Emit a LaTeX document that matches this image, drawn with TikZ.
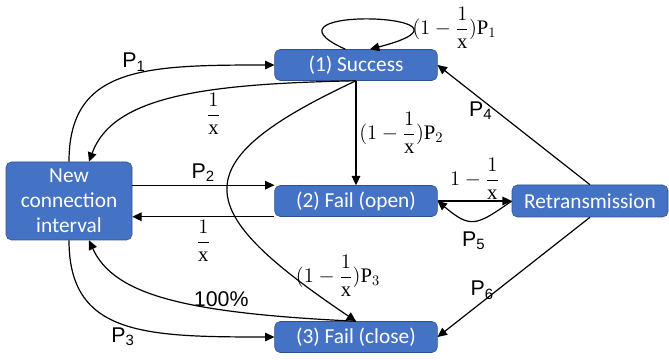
\RequirePackage{fix-cm}
\documentclass[tikz,border=0pt]{standalone}
\usepackage{amsmath}
\usepackage{fontspec}
\setmainfont{Liberation Serif}
\usetikzlibrary{arrows.meta}
\newfontfamily\boxfont{Carlito}
\newfontfamily\labfont{Liberation Sans}
\definecolor{boxblue}{HTML}{4472C4}
\definecolor{boxline}{HTML}{2F528F}
\tikzset{
  state/.style={rectangle, rounded corners=4pt, fill=boxblue, draw=boxline, line width=0.4pt,
    text=white, font=\boxfont\fontsize{16}{18.75}\selectfont, inner sep=2pt},
  edge/.style={-{Triangle[length=7pt,width=6.5pt]}, line width=0.9pt},
  plab/.style={font=\labfont\fontsize{16}{18}\selectfont, inner sep=2pt},
  flab/.style={font=\fontsize{15.5}{17}\selectfont, inner sep=2pt}
}
\begin{document}
\begin{tikzpicture}[x=0.75pt, y=0.75pt]
    \useasboundingbox (0,0) rectangle (669,-360);

    % States
    \node[state, minimum width=122pt, minimum height=23.25pt] (s) at (356,-65) {(1) Success};
    \node[state, minimum width=122pt, minimum height=23.25pt] (fo) at (356,-201) {(2) Fail (open)};
    \node[state, minimum width=122pt, minimum height=23.25pt] (fc) at (356,-337) {(3) Fail (close)};
    \node[state, minimum width=94.5pt, minimum height=58.5pt, align=center] (new) at (69,-201) {New\\connection\\interval};
    \node[state, minimum width=117pt, minimum height=24pt] (rt) at (590,-201) {Retransmission};

    % Success loop
    \draw[edge] ([xshift=-8pt]s.north) .. controls +(-100,45) and +(135,35) .. ([xshift=10.5pt]s.north)
        node[pos=0.75, right, flab] {$(1-\dfrac{1}{\mathrm{x}})\mathrm{P}_1$};

    % New connection interval <-> Success
    \draw[edge] (new.north) .. controls +(0,95) and +(-130,0) .. (s.west)
        node[pos=0.55, above, plab] {P\textsubscript{1}};
    \draw[edge] (s.south) .. controls +(-150,-3) and +(24,66) .. ([xshift=15pt]new.north)
        node[pos=0.37, below, flab] {$\dfrac{1}{\mathrm{x}}$};

    % Success -> Fail
    \draw[edge] (s.south) -- (fo.north) node[midway, right, flab] {$(1-\dfrac{1}{\mathrm{x}})\mathrm{P}_2$};
    \draw[edge] (s.south) to[out=205, in=146, looseness=2.1]
        node[pos=0.85, right, flab] {$(1-\dfrac{1}{\mathrm{x}})\mathrm{P}_3$} (fc.north);

    % New connection interval <-> Fail (open)
    \draw[edge] (new.east |- fo.north west) -- (fo.north west) node[midway, above, plab] {P\textsubscript{2}};
    \draw[edge] (fo.south west) -- (new.east |- fo.south west) node[midway, below, flab] {$\dfrac{1}{\mathrm{x}}$};

    % New connection interval <-> Fail (close)
    \draw[edge] (new.south) .. controls +(0,-95) and +(-130,0) .. (fc.west)
        node[pos=0.5, below, plab] {P\textsubscript{3}};
    \draw[edge] (fc.north) .. controls +(-170,8) and +(25,-55) .. ([xshift=15pt]new.south)
        node[pos=0.32, above, plab] {100\%};

    % Retransmission
    \draw[edge] (fo.east) -- (rt.west) node[midway, above, flab, inner sep=0.5pt] {$1-\dfrac{1}{\mathrm{x}}$};
    \draw[edge] (rt.west) to[out=215, in=-40, looseness=1.5]
        node[pos=0.5, below=6pt, plab] {P\textsubscript{5}} (fo.east);
    \draw[edge] (rt.north) -- (s.east) node[pos=0.62, left, plab] {P\textsubscript{4}};
    \draw[edge] (rt.south) -- (fc.east) node[pos=0.61, left, plab] {P\textsubscript{6}};
\end{tikzpicture}
\end{document}
